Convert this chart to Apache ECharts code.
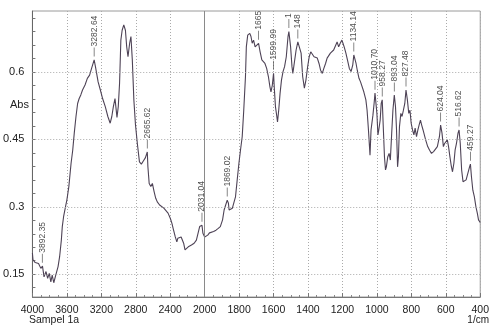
<!DOCTYPE html>
<html>
<head>
<meta charset="utf-8">
<script src="https://cdn.jsdelivr.net/npm/echarts@6/dist/echarts.min.js"></script>
<style>
html, body { margin: 0; background: #fff; }
#chart { width: 492px; height: 333px; }
</style>
</head>
<body>
<div id="chart"></div>
<script>
// IR spectrum, Sampel 1a (wavenumber 1/cm vs Abs)
var waves = [4000, 3993, 3967, 3929, 3902, 3883, 3865, 3842, 3823, 3804, 3786, 3770, 3752, 3729, 3702, 3684, 3664, 3653, 3638, 3616,
    3600, 3577, 3551, 3532, 3514, 3494, 3475, 3457, 3438, 3418, 3389, 3362, 3336, 3313, 3283, 3268, 3237, 3211, 3185, 3154,
    3124, 3097, 3078, 3060, 3041, 3018, 3003, 2988, 2973, 2958, 2939, 2920, 2905, 2890, 2871, 2856, 2840, 2822, 2803, 2780,
    2757, 2735, 2712, 2689, 2666, 2659, 2644, 2625, 2607, 2587, 2568, 2550, 2523, 2500, 2474, 2455, 2425, 2398, 2380, 2361,
    2341, 2323, 2312, 2296, 2273, 2258, 2244, 2228, 2210, 2190, 2171, 2153, 2122, 2096, 2077, 2058, 2031, 2020, 2000, 1991,
    1982, 1972, 1963, 1948, 1934, 1921, 1909, 1896, 1887, 1869, 1862, 1858, 1849, 1839, 1830, 1821, 1811, 1801, 1792, 1782,
    1773, 1763, 1758, 1750, 1738, 1731, 1724, 1716, 1707, 1697, 1687, 1678, 1668, 1659, 1650, 1640, 1630, 1621, 1615, 1607,
    1600, 1596, 1589, 1581, 1577, 1570, 1562, 1554, 1545, 1536, 1526, 1516, 1511, 1501, 1493, 1488, 1479, 1469, 1459, 1450,
    1440, 1431, 1421, 1412, 1402, 1393, 1384, 1374, 1365, 1355, 1346, 1336, 1327, 1317, 1308, 1298, 1289, 1279, 1270, 1260,
    1251, 1241, 1231, 1222, 1213, 1203, 1197, 1190, 1180, 1171, 1160, 1150, 1140, 1134, 1121, 1114, 1104, 1095, 1085, 1076,
    1064, 1057, 1049, 1043, 1040, 1034, 1023, 1016, 1011, 1000, 994, 989, 981, 975, 969, 963, 956, 950, 945, 937,
    929, 922, 914, 907, 899, 892, 886, 880, 875, 869, 861, 854, 846, 838, 831, 823, 815, 808, 801, 793,
    785, 778, 770, 762, 755, 747, 740, 732, 724, 717, 705, 694, 683, 671, 660, 649, 637, 630, 622, 614,
    607, 599, 591, 584, 576, 569, 561, 553, 546, 538, 529, 523, 516, 508, 500, 491, 482, 472, 462, 457,
    451, 443, 434, 425, 417, 410, 400];
var absorb = [0.197, 0.182, 0.176, 0.174, 0.163, 0.168, 0.144, 0.156, 0.141, 0.152, 0.133, 0.148, 0.131, 0.148, 0.167, 0.189, 0.226, 0.256, 0.278, 0.300,
    0.315, 0.345, 0.397, 0.426, 0.464, 0.501, 0.530, 0.541, 0.549, 0.560, 0.571, 0.586, 0.593, 0.608, 0.627, 0.612, 0.578, 0.560, 0.541, 0.523,
    0.501, 0.486, 0.501, 0.523, 0.541, 0.499, 0.523, 0.575, 0.671, 0.693, 0.705, 0.693, 0.656, 0.634, 0.664, 0.679, 0.627, 0.538, 0.482, 0.438,
    0.400, 0.395, 0.402, 0.409, 0.422, 0.389, 0.352, 0.345, 0.352, 0.334, 0.319, 0.311, 0.304, 0.300, 0.297, 0.293, 0.286, 0.274, 0.263, 0.248,
    0.233, 0.222, 0.230, 0.226, 0.233, 0.237, 0.219, 0.204, 0.200, 0.211, 0.210, 0.215, 0.219, 0.226, 0.241, 0.256, 0.259, 0.241, 0.233, 0.235,
    0.237, 0.242, 0.239, 0.245, 0.248, 0.252, 0.256, 0.271, 0.293, 0.315, 0.308, 0.293, 0.289, 0.297, 0.295, 0.322, 0.360, 0.397, 0.426, 0.456,
    0.515, 0.590, 0.656, 0.682, 0.686, 0.679, 0.664, 0.671, 0.656, 0.653, 0.664, 0.645, 0.627, 0.623, 0.619, 0.608, 0.590, 0.567, 0.556, 0.571,
    0.597, 0.567, 0.523, 0.501, 0.489, 0.515, 0.553, 0.582, 0.601, 0.612, 0.634, 0.679, 0.690, 0.656, 0.612, 0.597, 0.601, 0.649, 0.667, 0.664,
    0.642, 0.590, 0.564, 0.582, 0.612, 0.634, 0.645, 0.642, 0.634, 0.638, 0.631, 0.619, 0.604, 0.597, 0.608, 0.619, 0.631, 0.634, 0.642, 0.638,
    0.649, 0.653, 0.667, 0.656, 0.664, 0.671, 0.664, 0.656, 0.642, 0.627, 0.608, 0.601, 0.616, 0.638, 0.619, 0.604, 0.586, 0.578, 0.575, 0.556,
    0.538, 0.515, 0.471, 0.434, 0.415, 0.471, 0.504, 0.531, 0.553, 0.508, 0.460, 0.471, 0.493, 0.530, 0.538, 0.478, 0.411, 0.382, 0.389, 0.411,
    0.419, 0.404, 0.464, 0.515, 0.549, 0.523, 0.471, 0.389, 0.411, 0.478, 0.508, 0.501, 0.515, 0.530, 0.560, 0.538, 0.508, 0.515, 0.486, 0.471,
    0.460, 0.475, 0.456, 0.471, 0.482, 0.493, 0.482, 0.471, 0.475, 0.449, 0.434, 0.426, 0.419, 0.423, 0.426, 0.434, 0.456, 0.482, 0.464, 0.434,
    0.441, 0.445, 0.449, 0.434, 0.411, 0.393, 0.378, 0.397, 0.426, 0.441, 0.464, 0.471, 0.441, 0.382, 0.356, 0.352, 0.360, 0.363, 0.389, 0.395,
    0.367, 0.337, 0.322, 0.300, 0.286, 0.271, 0.265];

// peak picks
var peakWaves = [3885, 3283, 2666, 2031, 1869, 1687, 1600, 1511, 1459, 1134, 1011, 969, 899, 831, 630, 523, 457];
var peakAbs = [0.168, 0.627, 0.422, 0.259, 0.315, 0.664, 0.597, 0.690, 0.667, 0.638, 0.553, 0.538, 0.549, 0.560, 0.482, 0.471, 0.395];
var peakTexts = ['3892.35', '3282.64', '2665.62', '2031.04', '1869.02', '1665', '1599.99', '1', '148', '1134.14',
    '1010.70', '958.27', '893.04', '827.48', '624.04', '516.62', '459.27'];

var yLabels = [0.15, 0.3, 0.45, 0.6];
var yTicks = [0.12, 0.15, 0.18, 0.21, 0.24, 0.27, 0.3, 0.33, 0.36, 0.39, 0.42, 0.45, 0.48, 0.51, 0.54, 0.57, 0.6, 0.63, 0.66, 0.69, 0.72];

// spectrometer scale: above 2000 1/cm the axis is compressed by half
function toAxis(w) { return w > 2000 ? 2000 + (w - 2000) / 2 : w; }
function fromAxis(v) { return v > 2000 ? 2000 + (v - 2000) * 2 : v; }

var narrow = '"Liberation Sans Narrow", "Arial Narrow", "Liberation Sans", sans-serif';

var lineData = [];
for (var i = 0; i < waves.length; i++) {
    lineData.push([toAxis(waves[i]), absorb[i]]);
}
var peakData = [];
for (var k = 0; k < peakWaves.length; k++) {
    peakData.push([toAxis(peakWaves[k]), peakAbs[k]]);
}

var gridLines = [];
for (var j = 0; j < yLabels.length; j++) {
    gridLines.push({ yAxis: yLabels[j] });
}
gridLines.push({ xAxis: 2000, lineStyle: { color: '#8a8a8a', type: 'solid' } });

var chart = echarts.init(document.getElementById('chart'));
chart.setOption({
    animation: false,
    grid: { left: 31, right: 5, top: 11, bottom: 36, show: true, borderColor: '#9a9a9a', borderWidth: 1 },
    xAxis: {
        type: 'value',
        min: 400,
        max: 3000,
        interval: 200,
        inverse: true,
        axisLine: { show: true, onZero: false, lineStyle: { color: '#777' } },
        axisTick: { show: true, inside: true, length: 4, lineStyle: { color: '#777' } },
        minorTick: { show: true, splitNumber: 4, length: 2, lineStyle: { color: '#888' } },
        axisLabel: {
            color: '#222', fontFamily: narrow, fontSize: 10.5, margin: 8,
            showMinLabel: true, showMaxLabel: true,
            formatter: function (v) { return String(fromAxis(v)); }
        },
        splitLine: { show: true, lineStyle: { color: '#aaa', type: [1, 2], width: 1 } }
    },
    yAxis: {
        type: 'value',
        min: 0.0993,
        max: 0.7358,
        axisLine: { show: true, lineStyle: { color: '#666' } },
        axisTick: { show: true, inside: true, length: 3, customValues: yTicks, lineStyle: { color: '#777' } },
        axisLabel: { customValues: yLabels, color: '#222', fontFamily: narrow, fontSize: 11, margin: 8 },
        splitLine: { show: false }
    },
    graphic: [
        { type: 'rect', shape: { x: 0, y: 0, width: 492, height: 10 }, style: { fill: '#fff' }, z: 100 },
        { type: 'text', left: 10, top: 99, style: { text: 'Abs', font: '11px ' + narrow, fill: '#222' } },
        { type: 'text', left: 29, top: 315, style: { text: 'Sampel 1a', font: '10.5px ' + narrow, fill: '#222' } },
        { type: 'text', right: 3, top: 315, style: { text: '1/cm', font: '10px ' + narrow, fill: '#222' } }
    ],
    series: [
        {
            type: 'line',
            data: lineData,
            symbol: 'none',
            lineStyle: { color: '#4e4356', width: 1.1 },
            markLine: {
                silent: true,
                symbol: 'none',
                label: { show: false },
                lineStyle: { color: '#aaa', type: [1, 2], width: 1 },
                data: gridLines
            }
        },
        {
            type: 'scatter',
            data: peakData,
            symbol: 'rect',
            symbolSize: [0.8, 9],
            symbolOffset: [0, -8],
            itemStyle: { color: '#444' },
            label: {
                show: true,
                position: 'top',
                distance: 1,
                rotate: 90,
                align: 'left',
                verticalAlign: 'middle',
                fontFamily: narrow,
                fontSize: 8.5,
                color: '#222',
                formatter: function (p) { return peakTexts[p.dataIndex]; }
            },
            z: 3
        }
    ]
});
</script>
</body>
</html>
